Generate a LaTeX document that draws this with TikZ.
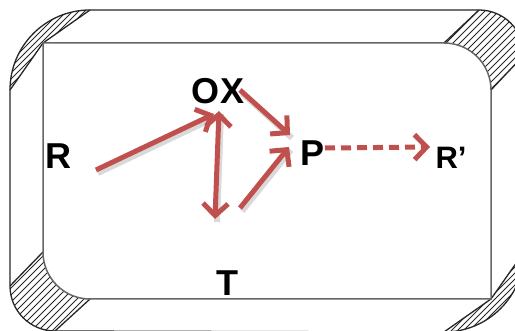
\documentclass[tikz,border=0pt]{standalone}
\usepackage{fontspec}
\setmainfont{Liberation Sans}
\usetikzlibrary{arrows.meta,calc}
\definecolor{arrowred}{HTML}{C0504D}
\begin{document}
\begin{tikzpicture}[x=1pt,y=-1pt,
  frameline/.style={draw=black!85,line width=1.3pt},
  innerline/.style={draw=black!60,line width=1.5pt},
  hatchline/.style={draw=black!85,line width=0.8pt},
  lbl/.style={inner sep=0pt,font=\bfseries\fontsize{36}{36}\selectfont},
  lblsmall/.style={inner sep=0pt,font=\bfseries\fontsize{31}{31}\selectfont},
  tipbarb/.tip={Straight Barb[length=12pt,width=25pt]},
  redarrow/.style={draw=arrowred,line width=5pt,-tipbarb},
  dblarrow/.style={draw=arrowred,line width=5pt,tipbarb-tipbarb},
  dasharrow/.style={draw=arrowred,line width=5pt,dash pattern=on 10pt off 6pt,-tipbarb},
  shadowline/.style={draw=black,opacity=0.15,line width=6pt,transform canvas={shift={(2pt,-3pt)}}}
]
\useasboundingbox (0,0) rectangle (515,331);
\clip (0,0) rectangle (515,331);

% hatched corner faces
\begin{scope}
  \clip (10,90) arc[start angle=180,end angle=270,radius=80] -- (43,43) -- cycle;
  \foreach \c in {0,6,...,200} \draw[hatchline] (\c,0) -- (0,\c);
\end{scope}
\begin{scope}
  \clip (444,43) -- (479,10) arc[start angle=270,end angle=360,radius=45] -- (491,90) arc[start angle=0,end angle=-90,radius=47] -- cycle;
  \foreach \c in {440,447,...,640} \draw[hatchline] (\c,0) -- (0,\c);
\end{scope}
\begin{scope}
  \clip (524,252) arc[start angle=0,end angle=90,radius=80] -- (491,299) -- cycle;
  \foreach \c in {680,686,...,870} \draw[hatchline] (\c,0) -- (0,\c);
\end{scope}
\begin{scope}
  \clip (43,252) -- (10,286) arc[start angle=180,end angle=90,radius=45] -- (90,299) arc[start angle=90,end angle=180,radius=47] -- cycle;
  \foreach \c in {250,257,...,400} \draw[hatchline] (\c,0) -- (0,\c);
\end{scope}

% outlines of the corner faces
\draw[frameline] (10,90) -- (43,43) -- (90,10);
\draw[frameline] (444,43) -- (479,10);
\draw[frameline] (491,90) -- (524,55);
\draw[frameline] (524,252) -- (491,299) -- (444,332);
\draw[frameline] (43,252) -- (10,286);
\draw[frameline] (90,299) -- (55,331);

% outer frame
\draw[frameline] (90,10) -- (479,10) arc[start angle=270,end angle=360,radius=45]
  -- (524,252) arc[start angle=0,end angle=90,radius=80]
  -- (55,331) arc[start angle=90,end angle=180,radius=45]
  -- (10,90) arc[start angle=180,end angle=270,radius=80] -- cycle;
% inner panel
\draw[innerline] (43,43) -- (444,43) arc[start angle=270,end angle=360,radius=47]
  -- (491,299) -- (90,299) arc[start angle=90,end angle=180,radius=47] -- cycle;

% labels
\node[lbl] (R) at (58,156) {R};
\node[lbl] (OX) at (218,91) {OX};
\node[lbl] (P) at (313,153) {P};
\node[lblsmall] (Rp) at (451,158) {R’};
\node[lbl] (T) at (227,283) {T};

% named ends
\coordinate (a1) at ($(R.center)+(38,14)$);
\coordinate (a2) at ($(OX.center)+(-4,23)$);
\coordinate (b1) at ($(OX.center)+(1,20)$);
\coordinate (b2) at ($(T.center)+(-12,-64)$);
\coordinate (c1) at ($(OX.center)+(22,-1)$);
\coordinate (c2) at ($(P.center)+(-23,-18)$);
\coordinate (d1) at ($(T.center)+(13,-75)$);
\coordinate (d2) at ($(P.center)+(-24,-6)$);
\coordinate (e1) at ($(P.center)+(12,-5)$);
\coordinate (e2) at ($(Rp.center)+(-21,-11)$);

% shadows
\draw[shadowline] (a1) -- (a2);
\draw[shadowline] (b1) -- (b2);
\draw[shadowline] (c1) -- (c2);
\draw[shadowline] (d1) -- (d2);

% arrows
\draw[redarrow] (a1) -- (a2);
\draw[dblarrow] (b1) -- (b2);
\draw[redarrow] (c1) -- (c2);
\draw[redarrow] (d1) -- (d2);
\draw[dasharrow] (e1) -- (e2);
\end{tikzpicture}
\end{document}
